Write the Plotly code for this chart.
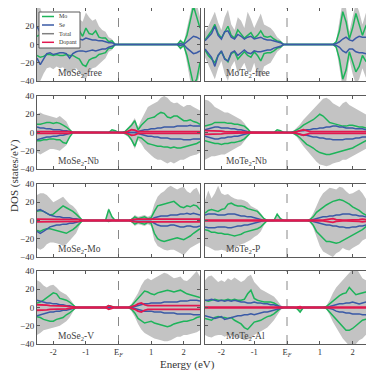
import plotly.graph_objects as go
from plotly.subplots import make_subplots

# === DATA (0.1 eV grid) ===
ENERGY = [-2.5, -2.4, -2.3, -2.2, -2.1, -2.0, -1.9, -1.8, -1.7, -1.6,
          -1.5, -1.4, -1.3, -1.2, -1.1, -1.0, -0.9, -0.8, -0.7, -0.6,
          -0.5, -0.4, -0.3, -0.2, -0.1, 0.0, 0.1, 0.2, 0.3, 0.4,
          0.5, 0.6, 0.7, 0.8, 0.9, 1.0, 1.1, 1.2, 1.3, 1.4,
          1.5, 1.6, 1.7, 1.8, 1.9, 2.0, 2.1, 2.2, 2.3, 2.4, 2.5]

X_TICKS = [-2, -1, 0, 1, 2]
X_TICKTEXT = ["-2", "-1", "E<sub><i>F</i></sub>", "1", "2"]
Y_TICKS = [-40, -20, 0, 20, 40]

TITLES = ["MoSe<sub>2</sub>-free", "MoTe<sub>2</sub>-free",
          "MoSe<sub>2</sub>-Nb", "MoTe<sub>2</sub>-Nb",
          "MoSe<sub>2</sub>-Mo", "MoTe<sub>2</sub>-P",
          "MoSe<sub>2</sub>-V", "MoTe<sub>2</sub>-Al"]
LEGEND_NAMES = ["Mo", "Se", "Total", "Dopant"]

# MoSe2-free  (down-spin values stored as magnitudes)
MOSE2_FREE_TOT_UP = [42, 40, 30, 22, 20, 24, 22, 24, 26, 25, 28, 24, 26, 28, 25, 35, 30, 26, 28, 20, 16, 14, 8, 6, 0,
                     0, 0, 0, 0, 0, 0, 0, 0, 0, 0, 0, 0, 0, 0, 0, 0, 0, 0, 0, 6, 2, 18, 38, 50, 45, 30]
MOSE2_FREE_TOT_DN = [42, 40, 32, 26, 25, 27, 24, 26, 25, 30, 32, 28, 26, 30, 36, 38, 30, 26, 25, 22, 18, 15, 8, 6, 0,
                     0, 0, 0, 0, 0, 0, 0, 0, 0, 0, 0, 0, 0, 0, 0, 0, 0, 0, 0, 6, 2, 20, 40, 50, 46, 32]
MOSE2_FREE_MO_UP = [9, 11, 8, 7, 9, 10, 8, 11, 12, 10, 12, 11, 13, 15, 9, 18, 12, 11, 15, 8, 7, 7, 3, 4, 0,
                    0, 0, 0, 0, 0, 0, 0, 0, 0, 0, 0, 0, 0, 0, 0, 0, 0, 0, 0, 4, 1, 10, 24, 42, 30, 18]
MOSE2_FREE_MO_DN = [12, 14, 13, 11, 11, 12, 11, 12, 12, 11, 12, 12, 14, 16, 22, 24, 17, 15, 14, 11, 10, 9, 4, 4, 0,
                    0, 0, 0, 0, 0, 0, 0, 0, 0, 0, 0, 0, 0, 0, 0, 0, 0, 0, 0, 4, 1, 12, 28, 44, 38, 20]
MOSE2_FREE_SE_UP = [20, 12, 6, 5, 6, 5, 6, 5, 4, 5, 6, 5, 5, 6, 5, 7, 6, 5, 5, 4, 4, 3, 2, 2, 0,
                    0, 0, 0, 0, 0, 0, 0, 0, 0, 0, 0, 0, 0, 0, 0, 0, 0, 0, 0, 1, 0, 3, 6, 9, 8, 6]
MOSE2_FREE_SE_DN = [15, 22, 16, 10, 9, 11, 10, 9, 9, 10, 15, 10, 8, 7, 7, 8, 7, 6, 7, 6, 5, 5, 3, 2, 0,
                    0, 0, 0, 0, 0, 0, 0, 0, 0, 0, 0, 0, 0, 0, 0, 0, 0, 0, 0, 1, 0, 4, 7, 10, 9, 7]

# MoTe2-free
MOTE2_FREE_TOT_UP = [14, 20, 28, 36, 24, 16, 30, 38, 22, 16, 30, 26, 18, 36, 28, 18, 26, 34, 22, 20, 18, 14, 8, 5, 0,
                     0, 0, 0, 0, 0, 0, 0, 0, 0, 0, 0, 0, 0, 0, 0, 4, 22, 48, 40, 14, 30, 46, 36, 22, 34, 40]
MOTE2_FREE_TOT_DN = [14, 22, 30, 38, 26, 18, 32, 40, 24, 18, 32, 26, 20, 30, 30, 20, 34, 36, 24, 22, 20, 14, 8, 5, 0,
                     0, 0, 0, 0, 0, 0, 0, 0, 0, 0, 0, 0, 0, 0, 0, 4, 24, 48, 42, 16, 32, 44, 38, 26, 36, 38]
MOTE2_FREE_MO_UP = [5, 10, 15, 22, 12, 7, 14, 20, 10, 7, 16, 12, 7, 10, 13, 7, 10, 15, 9, 8, 9, 6, 4, 3, 0,
                    0, 0, 0, 0, 0, 0, 0, 0, 0, 0, 0, 0, 0, 0, 0, 3, 15, 36, 25, 6, 18, 34, 22, 10, 20, 26]
MOTE2_FREE_MO_DN = [6, 12, 16, 20, 12, 8, 15, 19, 10, 8, 16, 12, 8, 12, 14, 8, 12, 18, 10, 9, 9, 7, 4, 3, 0,
                    0, 0, 0, 0, 0, 0, 0, 0, 0, 0, 0, 0, 0, 0, 0, 3, 16, 38, 28, 8, 20, 30, 24, 12, 18, 22]
MOTE2_FREE_SE_UP = [4, 8, 12, 20, 10, 6, 14, 15, 8, 6, 11, 9, 6, 8, 9, 6, 7, 8, 6, 5, 5, 4, 3, 2, 0,
                    0, 0, 0, 0, 0, 0, 0, 0, 0, 0, 0, 0, 0, 0, 0, 1, 3, 6, 8, 5, 4, 7, 9, 8, 8, 7]
MOTE2_FREE_SE_DN = [5, 9, 14, 24, 12, 7, 16, 18, 9, 7, 12, 9, 6, 9, 10, 7, 8, 8, 7, 6, 6, 4, 3, 2, 0,
                    0, 0, 0, 0, 0, 0, 0, 0, 0, 0, 0, 0, 0, 0, 0, 1, 3, 7, 9, 5, 5, 8, 9, 9, 10, 9]

# MoSe2-Nb
MOSE2_NB_TOT_UP = [20, 22, 20, 19, 18, 17, 16, 18, 15, 12, 5, 0, 0, 0, 0, 0, 0, 0, 0, 0, 0, 0, 0, 3, 2,
                   0, 0, 2, 6, 10, 16, 6, 14, 22, 28, 30, 32, 34, 38, 40, 38, 34, 32, 33, 30, 28, 30, 30, 28, 26, 24]
MOSE2_NB_TOT_DN = [22, 24, 22, 20, 18, 18, 19, 20, 17, 14, 5, 0, 0, 0, 0, 0, 0, 0, 0, 0, 0, 0, 0, 0, 0,
                   0, 0, 2, 5, 10, 18, 8, 12, 18, 22, 25, 28, 30, 30, 32, 34, 32, 34, 32, 30, 30, 28, 26, 25, 24, 22]
MOSE2_NB_MO_UP = [9, 9, 10, 11, 11, 10, 11, 10, 8, 6, 3, 0, 0, 0, 0, 0, 0, 0, 0, 0, 0, 0, 0, 3, 2,
                  0, 0, 1, 4, 8, 13, 3, 8, 12, 15, 16, 17, 20, 22, 21, 17, 16, 18, 18, 15, 13, 13, 14, 12, 11, 9]
MOSE2_NB_MO_DN = [9, 9, 8, 8, 7, 7, 8, 8, 11, 12, 5, 0, 0, 0, 0, 0, 0, 0, 0, 0, 0, 0, 0, 0, 0,
                  0, 0, 1, 3, 8, 15, 5, 6, 9, 12, 13, 14, 15, 15, 16, 16, 17, 16, 17, 17, 16, 15, 14, 13, 12, 10]
MOSE2_NB_SE_UP = [6, 5, 5, 4, 4, 3, 3, 3, 2, 2, 1, 0, 0, 0, 0, 0, 0, 0, 0, 0, 0, 0, 0, 0, 0,
                  0, 0, 0, 0, 0, 0, 1, 2, 3, 3, 4, 4, 5, 5, 6, 6, 6, 6, 7, 7, 7, 7, 8, 7, 7, 7]
MOSE2_NB_SE_DN = [8, 7, 6, 5, 5, 4, 4, 3, 3, 2, 1, 0, 0, 0, 0, 0, 0, 0, 0, 0, 0, 0, 0, 0, 0,
                  0, 0, 0, 0, 0, 0, 1, 2, 3, 4, 4, 5, 5, 6, 6, 6, 7, 7, 7, 7, 8, 8, 8, 7, 7, 7]
MOSE2_NB_DOP = [1, 1, 1, 1, 1, 1, 1, 1, 1, 1, 1, 0, 0, 0, 0, 0, 0, 0, 0, 0, 0, 0, 0, 0, 0,
                0, 0, 0.5, 1.5, 3, 2.5, 1, 1, 1, 1, 1, 1, 1, 1, 1, 1, 1, 1, 1, 1, 1, 1, 1, 1, 1, 1]

# MoTe2-Nb
MOTE2_NB_TOT_UP = [36, 35, 32, 28, 26, 24, 22, 22, 20, 18, 16, 14, 10, 5, 0, 0, 0, 0, 0, 0, 0, 0, 3, 2, 0,
                   0, 0, 2, 5, 9, 14, 18, 22, 26, 30, 34, 37, 38, 36, 32, 30, 28, 32, 34, 30, 28, 26, 24, 22, 20, 18]
MOTE2_NB_TOT_DN = [30, 28, 26, 26, 25, 24, 24, 22, 20, 18, 16, 14, 10, 5, 0, 0, 0, 0, 0, 0, 0, 0, 0, 0, 0,
                   0, 0, 2, 5, 10, 15, 20, 24, 28, 32, 35, 36, 37, 36, 34, 33, 32, 30, 30, 28, 26, 24, 22, 20, 18, 16]
MOTE2_NB_MO_UP = [7, 8, 9, 11, 11, 11, 11, 10, 10, 9, 9, 8, 7, 4, 0, 0, 0, 0, 0, 0, 0, 0, 3, 2, 0,
                  0, 0, 1, 3, 5, 8, 10, 12, 14, 17, 20, 18, 15, 11, 10, 9, 8, 7, 7, 8, 8, 7, 6, 6, 5, 4]
MOTE2_NB_MO_DN = [9, 10, 11, 12, 12, 13, 12, 12, 11, 11, 10, 9, 7, 4, 0, 0, 0, 0, 0, 0, 0, 0, 0, 0, 0,
                  0, 0, 1, 3, 6, 10, 13, 15, 17, 20, 22, 23, 24, 24, 23, 22, 21, 20, 19, 18, 17, 15, 13, 11, 9, 7]
MOTE2_NB_SE_UP = [3, 4, 5, 6, 6, 5, 5, 5, 4, 4, 3, 3, 2, 1, 0, 0, 0, 0, 0, 0, 0, 0, 0, 0, 0,
                  0, 0, 0, 1, 2, 2, 3, 3, 4, 4, 5, 5, 6, 6, 7, 7, 6, 6, 5, 5, 5, 4, 4, 4, 3, 3]
MOTE2_NB_SE_DN = [4, 5, 6, 7, 7, 6, 6, 5, 5, 4, 4, 3, 2, 1, 0, 0, 0, 0, 0, 0, 0, 0, 0, 0, 0,
                  0, 0, 0, 1, 2, 3, 3, 4, 5, 5, 6, 6, 7, 7, 8, 8, 8, 8, 7, 7, 7, 6, 6, 5, 5, 4]
MOTE2_NB_DOP = [2, 2, 2, 2, 1.5, 1.5, 1, 1, 1, 1, 1, 1, 0.5, 0.5, 0, 0, 0, 0, 0, 0, 0, 0, 0, 0, 0,
                0, 0, 0.5, 1, 2, 3, 2, 1, 1, 1, 1, 1, 1, 1, 1, 1, 1, 1, 1, 1, 1, 1, 1, 1, 1, 1]

# MoSe2-Mo
MOSE2_MO_TOT_UP = [28, 30, 30, 28, 24, 20, 22, 24, 26, 22, 18, 16, 12, 6, 0, 0, 0, 0, 0, 0, 0, 0, 14, 5, 0,
                   0, 0, 0, 0, 2, 6, 4, 5, 6, 4, 6, 18, 26, 30, 32, 36, 38, 36, 34, 36, 37, 32, 30, 34, 36, 28]
MOSE2_MO_TOT_DN = [30, 32, 30, 26, 24, 24, 25, 26, 28, 26, 22, 18, 14, 6, 0, 0, 0, 0, 0, 0, 0, 0, 2, 0, 0,
                   0, 0, 0, 0, 2, 6, 4, 5, 6, 4, 6, 22, 28, 30, 32, 33, 32, 32, 34, 36, 38, 34, 30, 28, 26, 24]
MOSE2_MO_MO_UP = [10, 11, 10, 8, 6, 7, 10, 14, 16, 14, 12, 10, 7, 4, 0, 0, 0, 0, 0, 0, 0, 0, 12, 4, 0,
                  0, 0, 0, 0, 1, 4, 2, 3, 4, 2, 3, 10, 16, 17, 18, 19, 20, 21, 18, 15, 14, 16, 15, 17, 16, 12]
MOSE2_MO_MO_DN = [11, 12, 10, 9, 9, 10, 11, 12, 13, 14, 12, 10, 7, 3, 0, 0, 0, 0, 0, 0, 0, 0, 1, 0, 0,
                  0, 0, 0, 0, 1, 4, 2, 3, 4, 2, 3, 14, 20, 22, 23, 22, 21, 20, 19, 20, 21, 19, 17, 14, 11, 9]
MOSE2_MO_SE_UP = [11, 12, 10, 8, 6, 5, 4, 4, 3, 3, 3, 2, 2, 1, 0, 0, 0, 0, 0, 0, 0, 0, 0, 0, 0,
                  0, 0, 0, 0, 0, 1, 1, 1, 1, 1, 1, 3, 4, 5, 5, 5, 6, 6, 6, 7, 7, 8, 7, 8, 7, 6]
MOSE2_MO_SE_DN = [12, 14, 12, 9, 7, 6, 5, 5, 4, 4, 3, 3, 2, 1, 0, 0, 0, 0, 0, 0, 0, 0, 0, 0, 0,
                  0, 0, 0, 0, 0, 1, 1, 1, 1, 1, 1, 3, 5, 6, 6, 6, 5, 5, 6, 7, 7, 6, 6, 7, 7, 6]
MOSE2_MO_DOP = [1.5, 1.5, 1.5, 1.5, 1.5, 1.5, 1.5, 1.5, 1.5, 1.5, 1.5, 1.5, 1.5, 1, 0, 0, 0, 0, 0, 0, 0, 0, 0, 0, 0,
                0, 0, 0, 0, 1, 1.5, 1.5, 1.5, 1.5, 1.5, 1.5, 1.5, 1.5, 1.5, 1.5, 1.5, 1.5, 1.5, 1.5, 1.5, 1.5, 1.5, 1.5, 1.5, 1.5, 1.5]

# MoTe2-P
MOTE2_P_TOT_UP = [22, 33, 24, 30, 38, 30, 28, 29, 26, 24, 23, 23, 22, 20, 16, 14, 12, 8, 3, 0, 0, 0, 8, 3, 0,
                  0, 0, 0, 0, 0, 0, 0, 2, 8, 16, 24, 30, 33, 36, 35, 34, 37, 36, 32, 29, 30, 32, 34, 30, 24, 20]
MOTE2_P_TOT_DN = [28, 29, 31, 33, 33, 32, 33, 34, 32, 30, 28, 26, 25, 23, 21, 18, 16, 12, 5, 0, 0, 0, 0, 0, 0,
                  0, 0, 0, 0, 0, 0, 0, 2, 8, 18, 28, 34, 36, 38, 40, 36, 34, 30, 32, 33, 30, 28, 26, 22, 20, 16]
MOTE2_P_MO_UP = [8, 11, 12, 11, 10, 12, 13, 18, 19, 17, 16, 16, 15, 13, 12, 11, 10, 6, 2, 0, 0, 0, 7, 2, 0,
                 0, 0, 0, 0, 0, 0, 0, 1, 4, 9, 12, 14, 17, 19, 21, 22, 23, 22, 20, 18, 15, 13, 11, 8, 6, 4]
MOTE2_P_MO_DN = [10, 11, 13, 13, 14, 14, 15, 15, 16, 17, 16, 15, 13, 12, 11, 10, 9, 7, 4, 0, 0, 0, 0, 0, 0,
                 0, 0, 0, 0, 0, 0, 0, 1, 5, 12, 16, 19, 23, 23, 24, 25, 24, 22, 20, 18, 16, 14, 12, 10, 7, 5]
MOTE2_P_SE_UP = [6, 7, 7, 7, 6, 6, 6, 7, 7, 7, 6, 5, 5, 4, 4, 3, 2, 1, 0, 0, 0, 0, 0, 0, 0,
                 0, 0, 0, 0, 0, 0, 0, 0, 1, 2, 3, 4, 4, 5, 5, 6, 6, 7, 7, 7, 6, 6, 5, 5, 4, 3]
MOTE2_P_SE_DN = [7, 8, 8, 8, 7, 7, 7, 8, 8, 7, 6, 6, 5, 5, 4, 3, 2, 1, 0, 0, 0, 0, 0, 0, 0,
                 0, 0, 0, 0, 0, 0, 0, 0, 1, 2, 3, 4, 5, 5, 6, 6, 7, 7, 8, 8, 7, 7, 6, 6, 5, 4]
MOTE2_P_DOP = [0.5, 0.5, 0.5, 0.5, 0.5, 0.5, 0.5, 0.5, 0.5, 0.5, 0.5, 0.5, 0.5, 0.5, 0.5, 0.5, 0.5, 0.5, 0, 0, 0, 0, 0, 0, 0,
               0, 0, 0, 0, 0, 0, 0, 0, 0.5, 0.5, 0.5, 0.5, 1, 1.5, 2, 1, 0.5, 0.5, 0.5, 0.5, 0.5, 0.5, 1, 1.5, 1, 0.5]

# MoSe2-V
MOSE2_V_TOT_UP = [30, 28, 24, 22, 24, 25, 22, 18, 16, 14, 10, 5, 0, 0, 0, 0, 0, 0, 0, 0, 0, 0, 3, 1, 0,
                  0, 0, 0, 0, 4, 10, 16, 24, 30, 32, 30, 32, 34, 36, 38, 37, 34, 32, 33, 34, 30, 29, 32, 36, 40, 34]
MOSE2_V_TOT_DN = [30, 28, 25, 24, 23, 22, 21, 20, 18, 15, 11, 5, 0, 0, 0, 0, 0, 0, 0, 0, 0, 0, 2, 0, 0,
                  0, 0, 0, 0, 4, 10, 18, 24, 28, 30, 32, 34, 35, 36, 37, 37, 36, 34, 32, 32, 30, 30, 29, 28, 27, 25]
MOSE2_V_MO_UP = [5, 6, 8, 11, 14, 16, 15, 10, 9, 8, 6, 3, 0, 0, 0, 0, 0, 0, 0, 0, 0, 0, 2, 1, 0,
                 0, 0, 0, 0, 2, 6, 10, 14, 18, 17, 15, 14, 16, 17, 18, 19, 18, 17, 18, 19, 17, 15, 14, 13, 12, 11]
MOSE2_V_MO_DN = [10, 11, 13, 14, 15, 15, 13, 12, 11, 8, 6, 3, 0, 0, 0, 0, 0, 0, 0, 0, 0, 0, 1, 0, 0,
                 0, 0, 0, 0, 2, 6, 12, 15, 17, 16, 15, 17, 18, 19, 20, 21, 20, 18, 17, 16, 15, 15, 14, 13, 11, 10]
MOSE2_V_SE_UP = [8, 7, 6, 5, 5, 4, 4, 3, 3, 2, 2, 1, 0, 0, 0, 0, 0, 0, 0, 0, 0, 0, 0, 0, 0,
                 0, 0, 0, 0, 0, 1, 2, 3, 4, 4, 5, 5, 5, 5, 6, 6, 6, 6, 6, 7, 7, 7, 8, 8, 8, 7]
MOSE2_V_SE_DN = [9, 8, 7, 6, 5, 5, 4, 4, 3, 3, 2, 1, 0, 0, 0, 0, 0, 0, 0, 0, 0, 0, 0, 0, 0,
                 0, 0, 0, 0, 0, 1, 2, 3, 4, 4, 4, 5, 5, 5, 6, 6, 6, 6, 7, 7, 7, 7, 7, 8, 8, 8]
MOSE2_V_DOP = [3, 3, 3, 2.5, 2, 2, 2, 2, 1.5, 1.5, 1, 1, 0.5, 0, 0, 0, 0, 0, 0, 0, 0, 0, 2, 1, 0,
               0, 0, 0, 0, 1, 2, 4, 5, 3, 2, 2, 2, 2, 2, 2, 2, 2, 2, 2, 2, 2, 2, 2, 2, 2, 2]

# MoTe2-Al
MOTE2_AL_TOT_UP = [30, 34, 35, 32, 28, 30, 28, 32, 30, 33, 30, 28, 30, 34, 36, 28, 24, 20, 18, 16, 14, 12, 8, 3, 0,
                   0, 0, 0, 0, 0, 0, 0, 0, 0, 0, 0, 0, 2, 8, 16, 22, 26, 30, 34, 38, 42, 44, 38, 32, 30, 34]
MOTE2_AL_TOT_DN = [30, 32, 33, 31, 30, 30, 32, 30, 30, 32, 33, 34, 36, 35, 34, 30, 28, 26, 24, 22, 18, 14, 9, 3, 0,
                   0, 0, 0, 1, 6, 0, 0, 0, 0, 0, 0, 0, 2, 8, 16, 22, 28, 34, 38, 42, 44, 40, 36, 34, 30, 28]
MOTE2_AL_MO_UP = [8, 7, 8, 9, 8, 8, 8, 9, 8, 9, 8, 8, 9, 15, 19, 10, 8, 7, 6, 6, 6, 5, 3, 0, 0,
                  0, 0, 0, 0, 0, 0, 0, 0, 0, 0, 0, 0, 1, 4, 8, 11, 13, 15, 16, 22, 18, 14, 15, 16, 17, 17]
MOTE2_AL_MO_DN = [12, 13, 14, 11, 10, 11, 11, 12, 11, 14, 16, 18, 22, 24, 20, 16, 15, 14, 12, 10, 9, 7, 4, 1, 0,
                  0, 0, 0, 1, 5, 0, 0, 0, 0, 0, 0, 0, 1, 5, 9, 14, 18, 22, 25, 25, 23, 20, 17, 14, 13, 13]
MOTE2_AL_SE_UP = [8, 8, 9, 8, 7, 8, 7, 8, 7, 8, 7, 6, 6, 5, 5, 6, 5, 5, 4, 4, 3, 3, 2, 1, 0,
                  0, 0, 0, 0, 0, 0, 0, 0, 0, 0, 0, 0, 0, 1, 2, 3, 4, 4, 5, 5, 6, 5, 4, 5, 6, 7]
MOTE2_AL_SE_DN = [9, 10, 11, 12, 11, 10, 13, 12, 11, 10, 9, 9, 8, 8, 7, 8, 7, 6, 5, 5, 4, 3, 2, 1, 0,
                  0, 0, 0, 0, 0, 0, 0, 0, 0, 0, 0, 0, 0, 1, 2, 4, 5, 5, 6, 6, 7, 7, 7, 8, 8, 9]
MOTE2_AL_DOP = [0.5, 0.5, 0.5, 0.5, 0.5, 0.5, 0.5, 0.5, 0.5, 0.5, 0.5, 0.5, 0.5, 0.5, 0.5, 0.5, 0.5, 0.5, 0.5, 0.5, 0.5, 0.5, 0.5, 0.5, 0,
                0, 0, 0, 0.5, 1, 0, 0, 0, 0, 0, 0, 0, 0.5, 0.5, 0.5, 0.5, 0.5, 0.5, 0.5, 0.5, 0.5, 0.5, 0.5, 0.5, 0.5, 0.5]

# === STYLE ===
FONT = "Liberation Serif"
MO_COLOR = "#1db45a"
SE_COLOR = "#3a5aa6"
TOT_COLOR = "#808080"
DOP_COLOR = "#e2184f"
FILL_COLOR = "#c3c3c3"
FRAME = "#5a5a5a"
OFF = 8          # page body margin in the browser
W = H = 374 - OFF

PANELS = [
    (MOSE2_FREE_TOT_UP, MOSE2_FREE_TOT_DN, MOSE2_FREE_MO_UP, MOSE2_FREE_MO_DN, MOSE2_FREE_SE_UP, MOSE2_FREE_SE_DN, None),
    (MOTE2_FREE_TOT_UP, MOTE2_FREE_TOT_DN, MOTE2_FREE_MO_UP, MOTE2_FREE_MO_DN, MOTE2_FREE_SE_UP, MOTE2_FREE_SE_DN, None),
    (MOSE2_NB_TOT_UP, MOSE2_NB_TOT_DN, MOSE2_NB_MO_UP, MOSE2_NB_MO_DN, MOSE2_NB_SE_UP, MOSE2_NB_SE_DN, MOSE2_NB_DOP),
    (MOTE2_NB_TOT_UP, MOTE2_NB_TOT_DN, MOTE2_NB_MO_UP, MOTE2_NB_MO_DN, MOTE2_NB_SE_UP, MOTE2_NB_SE_DN, MOTE2_NB_DOP),
    (MOSE2_MO_TOT_UP, MOSE2_MO_TOT_DN, MOSE2_MO_MO_UP, MOSE2_MO_MO_DN, MOSE2_MO_SE_UP, MOSE2_MO_SE_DN, MOSE2_MO_DOP),
    (MOTE2_P_TOT_UP, MOTE2_P_TOT_DN, MOTE2_P_MO_UP, MOTE2_P_MO_DN, MOTE2_P_SE_UP, MOTE2_P_SE_DN, MOTE2_P_DOP),
    (MOSE2_V_TOT_UP, MOSE2_V_TOT_DN, MOSE2_V_MO_UP, MOSE2_V_MO_DN, MOSE2_V_SE_UP, MOSE2_V_SE_DN, MOSE2_V_DOP),
    (MOTE2_AL_TOT_UP, MOTE2_AL_TOT_DN, MOTE2_AL_MO_UP, MOTE2_AL_MO_DN, MOTE2_AL_SE_UP, MOTE2_AL_SE_DN, MOTE2_AL_DOP),
]

# panel boxes in page pixels
COL_X = [(37, 200), (205, 369)]
ROW_Y = [(8, 81), (96, 169), (184, 257), (271, 344)]


def px(x):
    return (x - OFF) / W


def py(y):
    return 1 - (y - OFF) / H


def neg(v):
    return [-a for a in v]


fig = make_subplots(rows=4, cols=2)

for k, panel in enumerate(PANELS):
    for arr in panel:
        if arr is not None:
            assert len(arr) == len(ENERGY), (k, len(arr))
    tot_up, tot_dn, mo_up, mo_dn, se_up, se_dn, dop = panel
    r, c = k // 2 + 1, k % 2 + 1

    fig.add_trace(go.Scatter(x=ENERGY + ENERGY[::-1], y=tot_up + neg(tot_dn)[::-1],
                             fill="toself", fillcolor=FILL_COLOR, mode="lines",
                             line=dict(width=0), hoverinfo="skip", showlegend=False),
                  row=r, col=c)
    for up, dn, color, w in ((mo_up, mo_dn, MO_COLOR, 1.5), (se_up, se_dn, SE_COLOR, 1.5)):
        for vals in (up, neg(dn)):
            fig.add_trace(go.Scatter(x=ENERGY, y=vals, mode="lines",
                                     line=dict(color=color, width=w), showlegend=False),
                          row=r, col=c)
    if dop is not None:
        for vals in (dop, neg(dop)):
            fig.add_trace(go.Scatter(x=ENERGY, y=vals, mode="lines",
                                     line=dict(color=DOP_COLOR, width=1.8), showlegend=False),
                          row=r, col=c)

    # axes
    xa = "xaxis" if k == 0 else f"xaxis{k + 1}"
    ya = "yaxis" if k == 0 else f"yaxis{k + 1}"
    x0, x1 = COL_X[c - 1]
    y0, y1 = ROW_Y[r - 1]
    fig.layout[xa].update(domain=[px(x0), px(x1)], range=[-2.5, 2.5],
                          tickvals=X_TICKS, ticktext=X_TICKTEXT,
                          showticklabels=(r == 4))
    fig.layout[ya].update(domain=[py(y1), py(y0)], range=[-40, 40],
                          tickvals=Y_TICKS, showticklabels=(c == 1))

    # Fermi level
    xref = "x" if k == 0 else f"x{k + 1}"
    yref = "y" if k == 0 else f"y{k + 1}"
    fig.add_shape(type="line", x0=0, x1=0, y0=0, y1=1, xref=xref, yref=f"{yref} domain",
                  line=dict(color="#888888", width=1, dash="dash"), layer="below")
    fig.add_annotation(text=TITLES[k], x=0.115, y=0.0, xref=f"{xref} domain", yref=f"{yref} domain",
                       xanchor="left", yanchor="bottom", showarrow=False,
                       font=dict(family=FONT, size=9.5, color="#444444"))

fig.update_xaxes(showgrid=False, zeroline=False, showline=True, linecolor=FRAME, linewidth=1,
                 mirror="ticks", ticks="inside", ticklen=3, tickcolor=FRAME,
                 tickfont=dict(family=FONT, size=8.5, color="#333333"), automargin=False)
fig.update_yaxes(showgrid=False, zeroline=False, showline=True, linecolor=FRAME, linewidth=1,
                 mirror="ticks", ticks="inside", ticklen=3, tickcolor=FRAME,
                 tickfont=dict(family=FONT, size=9, color="#333333"), automargin=False)

# legend box inside first panel
fig.add_shape(type="rect", xref="paper", yref="paper", x0=px(39), x1=px(80),
              y0=py(48), y1=py(12), line=dict(color=FRAME, width=1),
              fillcolor="white", layer="above")
for name, color, ypos in zip(LEGEND_NAMES, [MO_COLOR, SE_COLOR, TOT_COLOR, DOP_COLOR], [16.5, 25, 33.7, 42.3]):
    fig.add_shape(type="line", xref="paper", yref="paper", x0=px(42), x1=px(54),
                  y0=py(ypos), y1=py(ypos), line=dict(color=color, width=1.5), layer="above")
    fig.add_annotation(text=name, xref="paper", yref="paper", x=px(57), y=py(ypos),
                       xanchor="left", yanchor="middle", showarrow=False,
                       font=dict(family=FONT, size=6, color="#333333"))

fig.add_annotation(text="DOS (states/eV)", xref="paper", yref="paper", x=px(14), y=py(176),
                   textangle=-90, showarrow=False, xanchor="center", yanchor="middle",
                   font=dict(family=FONT, size=11, color="#333333"))
fig.add_annotation(text="Energy (eV)", xref="paper", yref="paper", x=px(187), y=py(364),
                   showarrow=False, xanchor="center", yanchor="middle",
                   font=dict(family=FONT, size=11, color="#333333"))

fig.update_layout(width=W, height=H, margin=dict(l=0, r=0, t=0, b=0),
                  paper_bgcolor="white", plot_bgcolor="white", showlegend=False)

fig.write_html("out.html")
